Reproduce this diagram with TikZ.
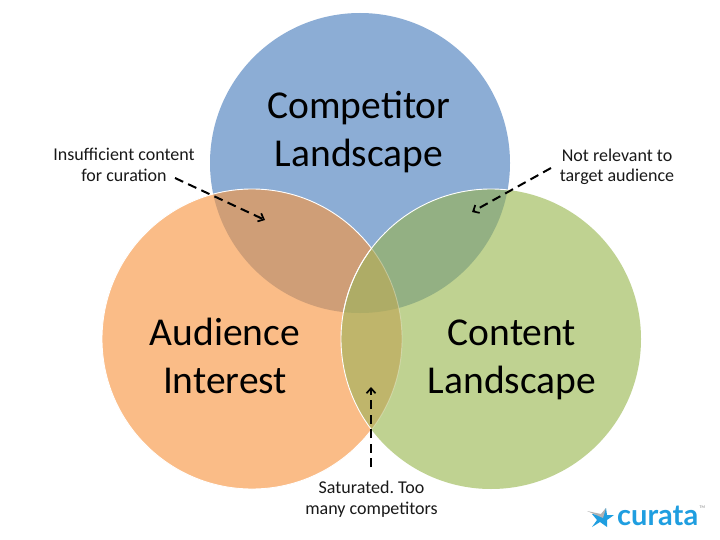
\documentclass[tikz,border=0pt]{standalone}
\usepackage{fontspec}
\setmainfont{Carlito}
\newfontfamily\logofont{Lato}
\usetikzlibrary{arrows.meta}
\definecolor{cblue}{HTML}{8CADD5}
\definecolor{corange}{HTML}{FABC87}
\definecolor{cgreen}{HTML}{BFD291}
\definecolor{cbo}{HTML}{CF9E77}
\definecolor{cbg}{HTML}{93B083}
\definecolor{cog}{HTML}{BFB56B}
\definecolor{cbog}{HTML}{AEAC66}
\definecolor{clogo}{HTML}{1F9EE0}
\tikzset{
  edge/.style={draw=white,line width=0.9pt},
  biglabel/.style={font=\fontsize{39.5}{48}\selectfont,align=center,text=black,inner sep=0pt},
  note/.style={font=\fontsize{18}{20.5}\selectfont,align=center,text=black!90,inner sep=0pt},
  pointer/.style={draw=black,line width=2pt,dash pattern=on 9pt off 5.5pt,-{Straight Barb[length=5pt,width=9pt,line width=1.7pt]}}
}
\def\bluecirc{(360,163) circle[radius=150pt]}
\def\orangecirc{(252,339) circle[radius=150pt]}
\def\greencirc{(491,339) circle[radius=150pt]}
\frenchspacing
\begin{document}
\begin{tikzpicture}[x=1pt,y=-1pt]
\useasboundingbox (0,0) rectangle (720,540);
\fill[white] (0,0) rectangle (720,540);
\fill[cblue] \bluecirc;
\fill[corange] \orangecirc;
\begin{scope}
\clip \orangecirc;
\fill[cbo] \bluecirc;
\end{scope}
\draw[edge] \orangecirc;
\fill[cgreen] \greencirc;
\begin{scope}
\clip \greencirc;
\fill[cbg] \bluecirc;
\begin{scope}
\clip \orangecirc;
\fill[cog] (0,0) rectangle (720,540);
\fill[cbog] \bluecirc;
\end{scope}
\draw[white,opacity=0.3,line width=0.9pt] \orangecirc;
\end{scope}
\begin{scope}
\clip \orangecirc;
\draw[edge] \greencirc;
\end{scope}
\begin{scope}
\clip \bluecirc;
\draw[edge] \greencirc;
\end{scope}
\node[biglabel] (comp) at (359,132) {Competitor\\Landscape};
\node[biglabel] (aud) at (225,356) {Audience\\Interest};
\node[biglabel] (cont) at (512,360) {Content\\Landscape};
\node[note] (n1) at (124,165) {Insufficient content\\for curation};
\node[note] (n2) at (617,167) {Not relevant to\\target audience};
\node[note] (n3) at (371.5,499) {Saturated. Too\\many competitors};
\coordinate (a1s) at (175,178);
\coordinate (a1e) at (265,220);
\coordinate (a2s) at (551,168);
\coordinate (a2e) at (472,212);
\coordinate (a3s) at (371,467);
\coordinate (a3e) at (371,387);
\draw[pointer] (a1s) -- (a1e);
\draw[pointer] (a2s) -- (a2e);
\draw[pointer] (a3s) -- (a3e);
\fill[clogo] (592,514) -- (601,515) -- (606,508) -- (607,515) -- (614,515) -- (607,520) -- (607,527) -- (600,522) -- (592,527) -- (597,520) -- cycle;
\fill[gray!60] (587,511) -- (601,514) -- (606,508) -- (603,518) -- cycle;
\node[font=\logofont\fontsize{29}{29}\selectfont\bfseries,text=clogo,inner sep=0pt,anchor=west] (logo) at (617,516) {curata};
\node[font=\fontsize{4}{4}\selectfont,text=gray,inner sep=0pt,anchor=west] (tm) at (699.5,507) {TM};
\end{tikzpicture}
\end{document}
